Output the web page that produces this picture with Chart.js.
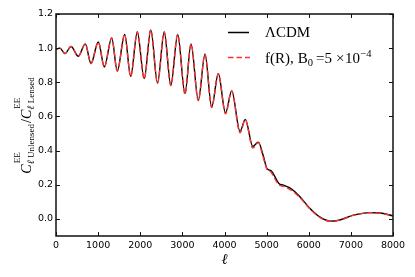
<!DOCTYPE html>
<html><head><meta charset="utf-8">
<script src="https://cdn.jsdelivr.net/npm/chart.js@4.4.0/dist/chart.umd.min.js"></script>
<style>html,body{margin:0;padding:0;background:#fff;}#wrap{width:415px;height:277px;}</style>
</head><body><div id="wrap"><canvas id="c" width="415" height="277"></canvas></div>
<script>
// multipoles (x values)
const ells = [0, 90, 214, 356, 530, 695, 830, 1004, 1147, 1322, 1455, 1630, 1773, 1930, 2094, 2250, 2410, 2569, 2725, 2889, 3062, 3205, 3378, 3537, 3695, 3853, 4024, 4171, 4368, 4494, 4672, 4803, 4920, 5010, 5110, 5180, 5290, 5400, 5600, 5790, 6030, 6270, 6505, 6740, 7060, 7455, 7690, 8000];
// LCDM ratio
const lcdmRatio = [0.993, 1.0, 0.968, 1.01, 0.953, 1.025, 0.91, 1.036, 0.89, 1.06, 0.867, 1.08, 0.835, 1.095, 0.822, 1.107, 0.796, 1.095, 0.783, 1.08, 0.734, 1.025, 0.695, 0.965, 0.656, 0.85, 0.62, 0.75, 0.513, 0.583, 0.424, 0.45, 0.37, 0.295, 0.282, 0.255, 0.207, 0.198, 0.174, 0.13, 0.061, 0.01, -0.013, -0.006, 0.022, 0.037, 0.035, 0.018];
// f(R) ratio
const fRRatio = [0.993, 1.0, 0.968, 1.01, 0.953, 1.025, 0.91, 1.036, 0.89, 1.06, 0.865, 1.08, 0.833, 1.095, 0.82, 1.107, 0.794, 1.095, 0.781, 1.08, 0.731, 1.025, 0.692, 0.965, 0.652, 0.85, 0.615, 0.75, 0.505, 0.58, 0.415, 0.447, 0.36, 0.29, 0.272, 0.242, 0.2, 0.19, 0.166, 0.125, 0.058, 0.008, -0.014, -0.007, 0.021, 0.036, 0.034, 0.017];
const xTicks = [0, 1000, 2000, 3000, 4000, 5000, 6000, 7000, 8000];
const yTicks = [0.0, 0.2, 0.4, 0.6, 0.8, 1.0, 1.2];
const seriesNames = ['\u039BCDM', 'f(R), B0 =5 \u00D710-4'];

const toPts = arr => ells.map((l, i) => ({x: l, y: arr[i]}));

const decor = {
  id: 'decor',
  afterDraw(chart) {
    const ctx = chart.ctx, a = chart.chartArea;
    const xs = chart.scales.x, ys = chart.scales.y;
    ctx.save();
    // frame
    ctx.strokeStyle = '#111'; ctx.lineWidth = 1.5;
    ctx.strokeRect(a.left, a.top, a.right - a.left, a.bottom - a.top);
    // inward ticks
    ctx.lineWidth = 1;
    const tl = 4;
    ctx.beginPath();
    xTicks.forEach(v => {
      const p = Math.round(xs.getPixelForValue(v)) + 0.5;
      ctx.moveTo(p, a.bottom); ctx.lineTo(p, a.bottom - tl);
      ctx.moveTo(p, a.top); ctx.lineTo(p, a.top + tl);
    });
    yTicks.forEach(v => {
      const p = Math.round(ys.getPixelForValue(v)) + 0.5;
      ctx.moveTo(a.left, p); ctx.lineTo(a.left + tl, p);
      ctx.moveTo(a.right, p); ctx.lineTo(a.right - tl, p);
    });
    ctx.stroke();

    // legend
    ctx.fillStyle = '#000';
    ctx.textBaseline = 'alphabetic'; ctx.textAlign = 'left';
    ctx.lineWidth = 1.5;
    ctx.strokeStyle = '#000';
    ctx.beginPath(); ctx.moveTo(228, 32.5); ctx.lineTo(249, 32.5); ctx.stroke();
    ctx.strokeStyle = '#ff3030';
    ctx.setLineDash([5.5, 3]);
    ctx.beginPath(); ctx.moveTo(228, 57.5); ctx.lineTo(250, 57.5); ctx.stroke();
    ctx.setLineDash([]);
    const lf = '15px "Liberation Serif"', lfs = '10.5px "Liberation Serif"';
    ctx.font = lf;
    ctx.fillText(seriesNames[0], 265, 37);
    const base = 63;
    let x = 265;
    const seg = (t, f, dy, gap) => { ctx.font = f; ctx.fillText(t, x, base + dy); x += ctx.measureText(t).width + gap; };
    seg('f(R),', lf, 0, 4);
    seg('B', lf, 0, 0);
    seg('0', lfs, 3, 3);
    seg('=5', lf, 0, 4);
    seg('\u00D7', lf, 0, 0.5);
    seg('10', lf, 0, 0.5);
    seg('\u22124', lfs, -6, 0);

    // x title
    ctx.font = 'italic 15px "DejaVu Serif"';
    ctx.textAlign = 'center'; ctx.textBaseline = 'middle';
    ctx.fillText('\u2113', (a.left + a.right) / 2, 260);

    // y title (rotated math)
    const mainF = 'italic 14px "Liberation Serif"';
    const supF = '9px "Liberation Serif"';
    const subF = '9px "Liberation Serif"';
    const subL = 'italic 10px "DejaVu Serif"';
    const items = [
      {type: 'atom', t: 'C', f: mainF},
      {type: 'script', sup: 'EE', sub: ['\u2113', ' Unlensed']},
      {type: 'atom', t: '/', f: '14px "Liberation Serif"'},
      {type: 'atom', t: 'C', f: mainF},
      {type: 'script', sup: 'EE', sub: ['\u2113', ' Lensed']}
    ];
    const w = it => {
      if (it.type === 'atom') { ctx.font = it.f; return ctx.measureText(it.t).width; }
      ctx.font = supF; const ws = ctx.measureText(it.sup).width + 1;
      ctx.font = subL; let wb = ctx.measureText(it.sub[0]).width;
      ctx.font = subF; wb += ctx.measureText(it.sub[1]).width;
      return Math.max(ws, wb) + 1;
    };
    const total = items.reduce((s, it) => s + w(it), 0);
    ctx.save();
    ctx.translate(31, (a.top + a.bottom) / 2);
    ctx.rotate(-Math.PI / 2);
    ctx.textAlign = 'left'; ctx.textBaseline = 'alphabetic';
    let u = -total / 2;
    items.forEach(it => {
      const ww = w(it);
      if (it.type === 'atom') { ctx.font = it.f; ctx.fillText(it.t, u, 0); }
      else {
        ctx.font = supF; ctx.fillText(it.sup, u + 1, -11);
        ctx.font = subL; ctx.fillText(it.sub[0], u, 3);
        const w0 = ctx.measureText(it.sub[0]).width;
        ctx.font = subF; ctx.fillText(it.sub[1], u + w0, 3);
      }
      u += ww;
    });
    ctx.restore();
    ctx.restore();
  }
};

new Chart(document.getElementById('c'), {
  type: 'line',
  data: {
    datasets: [
      {label: seriesNames[1], data: toPts(fRRatio), borderColor: '#ff3030', borderWidth: 1.4, borderDash: [5.5, 3], pointRadius: 0, fill: false, cubicInterpolationMode: 'monotone', order: 0},
      {label: seriesNames[0], data: toPts(lcdmRatio), borderColor: '#000', borderWidth: 1.4, pointRadius: 0, fill: false, cubicInterpolationMode: 'monotone', order: 1}
    ]
  },
  options: {
    responsive: false, animation: false, devicePixelRatio: 1,
    layout: {padding: {left: 0, right: 22, top: 14, bottom: 0}},
    plugins: {legend: {display: false}, tooltip: {enabled: false}},
    scales: {
      x: {
        type: 'linear', min: 0, max: 8000,
        afterBuildTicks: s => { s.ticks = xTicks.map(v => ({value: v})); },
        afterFit: s => { s.height = 41; },
        grid: {display: false, drawTicks: false},
        border: {display: false},
        ticks: {color: '#000', font: {family: 'DejaVu Sans', size: 9.5}, padding: 4, maxRotation: 0, autoSkip: false, callback: v => String(v)}
      },
      y: {
        type: 'linear', min: -0.1, max: 1.2,
        afterBuildTicks: s => { s.ticks = yTicks.map(v => ({value: v})); },
        afterFit: s => { s.width = 56; },
        grid: {display: false, drawTicks: false},
        border: {display: false},
        ticks: {color: '#000', font: {family: 'DejaVu Sans', size: 9.5}, padding: 3, autoSkip: false, callback: v => Number(v).toFixed(1)}
      }
    }
  },
  plugins: [decor]
});
</script></body></html>
